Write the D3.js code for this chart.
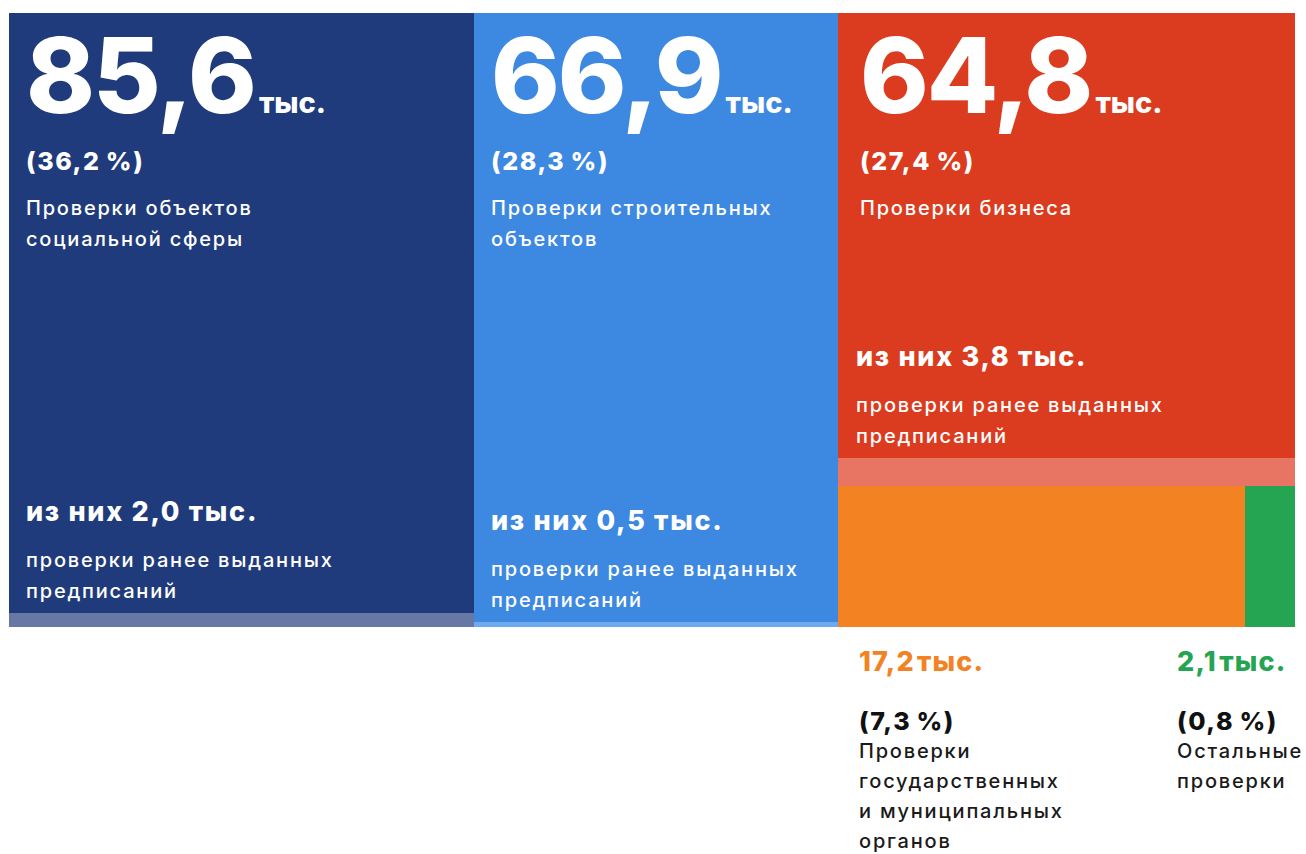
<!DOCTYPE html>
<html lang="ru">
<head>
<meta charset="UTF-8">
<title>Проверки</title>
<script src="https://d3js.org/d3.v7.min.js"></script>
<style>
  body { margin: 0; background: #fff; }
  svg text { font-family: Inter, "Open Sans", sans-serif; }
  .big { font-weight: 800; fill: #fff; }
  .unit { font-weight: 800; }
  .share { font-weight: 800; font-size: 25px; letter-spacing: 1.6px; }
  .name { font-weight: 500; font-size: 20px; letter-spacing: 1.8px; }
  .subhead { font-weight: 800; font-size: 27px; letter-spacing: 1.7px; fill: #fff; }
</style>
</head>
<body>
<div id="chart"></div>
<script>
// данные
const categories = ["social", "build", "business", "gov", "other"];
const names = [
  ["Проверки объектов", "социальной сферы"],
  ["Проверки строительных", "объектов"],
  ["Проверки бизнеса"],
  ["Проверки", "государственных", "и муниципальных", "органов"],
  ["Остальные", "проверки"]
];
const values = [85.6, 66.9, 64.8, 17.2, 2.1];      // тыс.
const valueLabels = ["85,6", "66,9", "64,8", "17,2", "2,1"];
const shares = ["36,2", "28,3", "27,4", "7,3", "0,8"];
const subValues = [2.0, 0.5, 3.8, 0, 0];           // из них, тыс.
const subLabels = ["2,0", "0,5", "3,8", null, null];
const mainColors = ["#203b7b", "#3d88e0", "#db3b1e", "#f38223", "#25a452"];
const subColors = ["#6878a5", "#6eaaee", "#e87563", "#f38223", "#25a452"];

const W = 1306, H = 854;
const margin = { left: 9, top: 13 };
const tmW = 1286, tmH = 614;

const svg = d3.select("#chart").append("svg")
  .attr("width", W).attr("height", H);

// иерархия: три колонки, третья делится на бизнес и нижний ряд
function leafNode(i) {
  const kids = [{ part: "main", idx: i, value: values[i] - subValues[i] }];
  if (subValues[i] > 0) kids.push({ part: "sub", idx: i, value: subValues[i] });
  return { cat: i, dir: "v", children: kids };
}
const tree = {
  dir: "h",
  children: [
    leafNode(0),
    leafNode(1),
    { dir: "v", children: [leafNode(2), { dir: "h", children: [leafNode(3), leafNode(4)] }] }
  ]
};

const root = d3.hierarchy(tree)
  .sum(d => d.value || 0);

const tile = (node, x0, y0, x1, y1) =>
  (node.data.dir === "v" ? d3.treemapSlice : d3.treemapDice)(node, x0, y0, x1, y1);

d3.treemap().size([tmW, tmH]).tile(tile).round(true)(root);

const g = svg.append("g").attr("transform", `translate(${margin.left},${margin.top})`);

// прямоугольники
g.selectAll("rect")
  .data(root.leaves())
  .join("rect")
  .attr("x", d => d.x0).attr("y", d => d.y0)
  .attr("width", d => d.x1 - d.x0).attr("height", d => d.y1 - d.y0)
  .attr("fill", d => d.data.part === "sub" ? subColors[d.data.idx] : mainColors[d.data.idx]);

const catNodes = root.descendants().filter(d => d.data.cat !== undefined);
const padX = [17, 17, 22];

// подписи внутри колонок
catNodes.filter(d => d.data.cat < 3).forEach(d => {
  const i = d.data.cat;
  const x = d.x0 + padX[i];
  const t = g.append("text").attr("class", "big")
    .attr("x", x).attr("y", d.y0 + 100)
    .style("font-size", "104px").style("letter-spacing", "-2px");
  t.append("tspan").text(valueLabels[i]);
  t.append("tspan").attr("class", "unit").attr("dx", 4)
    .style("font-size", "29px").style("letter-spacing", "0px").text("тыс.");

  g.append("text").attr("class", "share").attr("fill", "#fff")
    .attr("x", x).attr("y", d.y0 + 157).text(`(${shares[i]}\u2009%)`);

  names[i].forEach((line, k) => {
    g.append("text").attr("class", "name").attr("fill", "#fff")
      .attr("x", x).attr("y", d.y0 + 202 + k * 31).text(line);
  });

  const sub = d.children.find(c => c.data.part === "sub");
  const sx = d.x0 + 17 + (i === 2 ? 1 : 0);
  g.append("text").attr("class", "subhead")
    .attr("x", sx).attr("y", sub.y0 - 92).text(`из них ${subLabels[i]} тыс.`);
  ["проверки ранее выданных", "предписаний"].forEach((line, k) => {
    g.append("text").attr("class", "name").attr("fill", "#fff")
      .attr("x", sx).attr("y", sub.y0 - 46 + k * 31).text(line);
  });
});

// подписи под нижним рядом
catNodes.filter(d => d.data.cat >= 3).forEach(d => {
  const i = d.data.cat;
  const x = d.x0 + (i === 3 ? 21 : -68);
  const t = g.append("text").attr("x", x).attr("y", d.y1 + 44)
    .attr("fill", mainColors[i]).style("font-weight", 800).style("font-size", "27px")
    .style("letter-spacing", "1.2px");
  t.append("tspan").text(valueLabels[i]);
  t.append("tspan").attr("dx", 2).text("тыс.");

  g.append("text").attr("class", "share").attr("fill", "#111")
    .attr("x", x).attr("y", d.y1 + 103).text(`(${shares[i]}\u2009%)`);

  names[i].forEach((line, k) => {
    g.append("text").attr("class", "name").attr("fill", "#1a1a1a")
      .attr("x", x).attr("y", d.y1 + 131 + k * 30).text(line);
  });
});
</script>
</body>
</html>
